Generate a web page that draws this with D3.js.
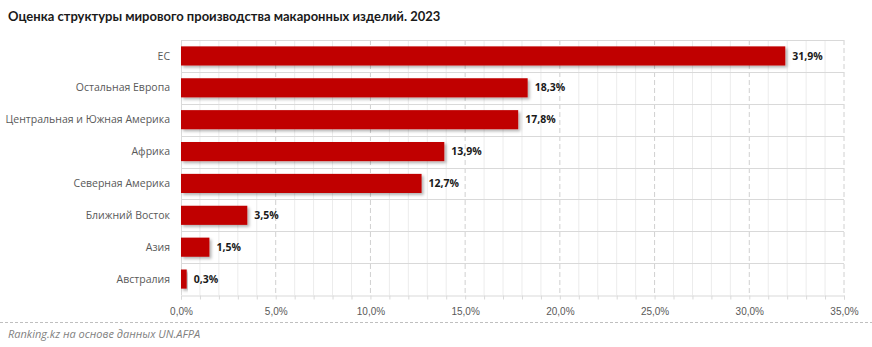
<!DOCTYPE html>
<html>
<head>
<meta charset="utf-8">
<script src="https://cdn.jsdelivr.net/npm/d3@7"></script>
<style>
  html, body { margin: 0; padding: 0; background: #fff; }
  svg { display: block; }
</style>
</head>
<body>
<svg id="chart" width="872" height="347"></svg>
<script>
// Regions and their share of world pasta production, 2023 (%)
const regions = ["ЕС", "Остальная Европа", "Центральная и Южная Америка", "Африка",
                 "Северная Америка", "Ближний Восток", "Азия", "Австралия"];
const shares = [31.9, 18.3, 17.8, 13.9, 12.7, 3.5, 1.5, 0.3];
const xTicks = [0, 5, 10, 15, 20, 25, 30, 35];

const title = "Оценка структуры мирового производства макаронных изделий. 2023";
const source = "Ranking.kz на основе данных UN.AFPA";

const svg = d3.select("#chart");
const W = 872, H = 347;
const m = { left: 181, right: 28, top: 40, bottom: 52 };
const x = d3.scaleLinear().domain([0, 35]).range([m.left, W - m.right]);
const y = d3.scaleBand().domain(regions).range([m.top, H - m.bottom]).paddingInner(0.4).paddingOuter(0.2);

const fmt = v => d3.format(".1f")(v).replace(".", ",") + "%";

// drop shadow for bars
const defs = svg.append("defs");
const f = defs.append("filter").attr("id", "shadow").attr("x", "-10%").attr("y", "-30%").attr("width", "130%").attr("height", "180%");
f.append("feDropShadow").attr("dx", 2).attr("dy", 2).attr("stdDeviation", 1.8)
  .attr("flood-color", "#000").attr("flood-opacity", 0.3);

// title
svg.append("text").attr("x", 8).attr("y", 21)
  .attr("font-family", "Lato, 'Open Sans', sans-serif").attr("font-size", 13)
  .attr("font-weight", 700).attr("fill", "#1a1a1a").text(title);

// minor vertical grid (1%)
const minor = d3.range(1, 36).filter(v => v % 5 !== 0);
svg.append("g").selectAll("line").data(minor).join("line")
  .attr("x1", d => x(d)).attr("x2", d => x(d))
  .attr("y1", m.top).attr("y2", H - m.bottom)
  .attr("stroke", "#ececec").attr("stroke-width", 1);

// major vertical grid (5%), dashed
svg.append("g").selectAll("line").data(xTicks.filter(v => v > 0)).join("line")
  .attr("x1", d => x(d)).attr("x2", d => x(d))
  .attr("y1", m.top).attr("y2", H - m.bottom)
  .attr("stroke", "#d0d0d0").attr("stroke-dasharray", "5,3").attr("stroke-width", 1);

// horizontal category separators
const bounds = regions.map(r => y(r) - y.step() * y.paddingInner() / 2);
svg.append("g").selectAll("line").data(bounds).join("line")
  .attr("x1", m.left).attr("x2", x(35))
  .attr("y1", d => Math.round(d) + 0.5).attr("y2", d => Math.round(d) + 0.5)
  .attr("stroke", "#d9d9d9").attr("stroke-width", 1);

// y axis line
svg.append("line").attr("x1", m.left + 0.5).attr("x2", m.left + 0.5)
  .attr("y1", m.top).attr("y2", H - m.bottom)
  .attr("stroke", "#d9d9d9");

// x axis
const xAxis = d3.axisBottom(x).tickValues(d3.range(0, 36)).tickSize(4)
  .tickFormat(d => d % 5 === 0 ? fmt(d) : "");
const gx = svg.append("g").attr("transform", `translate(0,${Math.round(H - m.bottom) + 0.5})`).call(xAxis);
gx.select(".domain").attr("stroke", "#d9d9d9");
gx.selectAll(".tick line").attr("stroke", "#d9d9d9");
gx.selectAll(".tick text").attr("dy", 12)
  .attr("font-family", "'Liberation Sans Narrow', 'Liberation Sans', sans-serif")
  .attr("font-size", 10).attr("fill", "#595959");

// category labels
svg.append("g").selectAll("text").data(regions).join("text")
  .attr("x", m.left - 11).attr("y", d => y(d) + y.bandwidth() / 2)
  .attr("dy", "0.35em").attr("text-anchor", "end")
  .attr("font-family", "'Open Sans', 'DejaVu Sans', sans-serif").attr("font-size", 10.5)
  .attr("fill", "#595959").text(d => d);

// bars
svg.append("g").selectAll("rect").data(shares).join("rect")
  .attr("x", x(0)).attr("y", (d, i) => y(regions[i]))
  .attr("width", d => x(d) - x(0)).attr("height", y.bandwidth())
  .attr("fill", "#c00000").attr("filter", "url(#shadow)");

// value labels
svg.append("g").selectAll("text").data(shares).join("text")
  .attr("x", d => x(d) + 7).attr("y", (d, i) => y(regions[i]) + y.bandwidth() / 2)
  .attr("dy", "0.35em")
  .attr("font-family", "'Open Sans', 'DejaVu Sans', sans-serif").attr("font-size", 10.5)
  .attr("font-weight", 700).attr("fill", "#1a1a1a").text(d => fmt(d));

// footer
svg.append("line").attr("x1", 0).attr("x2", W).attr("y1", 322.5).attr("y2", 322.5)
  .attr("stroke", "#bfbfbf").attr("stroke-dasharray", "3,2");
svg.append("text").attr("x", 8).attr("y", 338)
  .attr("font-family", "'Open Sans', 'DejaVu Sans', sans-serif").attr("font-size", 11)
  .attr("font-style", "italic").attr("fill", "#7f7f7f").text(source);
</script>
</body>
</html>
